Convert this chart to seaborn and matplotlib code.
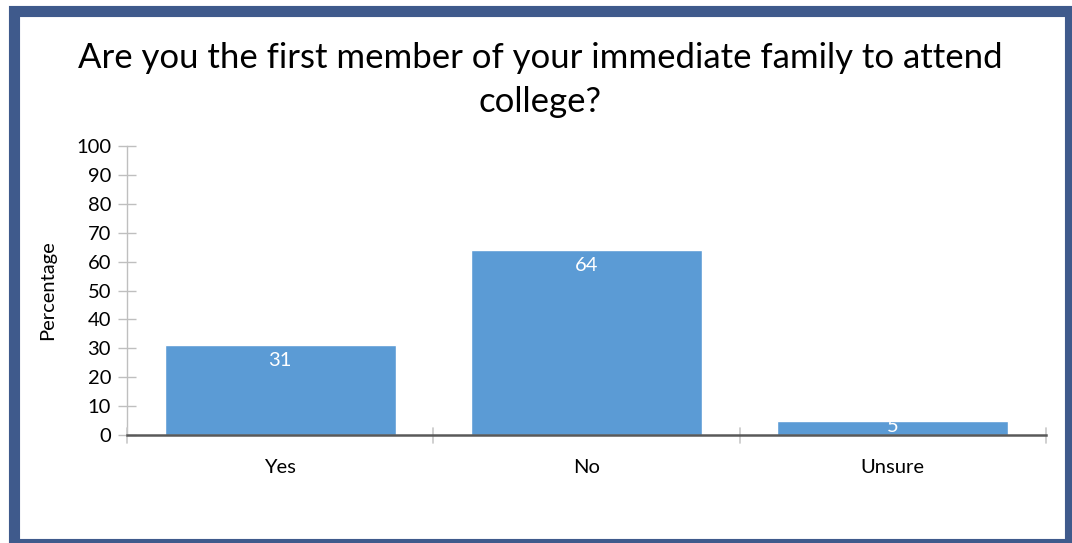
import matplotlib
matplotlib.use("Agg")
import matplotlib.pyplot as plt
import seaborn as sns
import pandas as pd
from matplotlib.patches import Rectangle

categories = ["Yes", "No", "Unsure"]
percentages = [31, 64, 5]
y_ticks = list(range(0, 101, 10))
title = "Are you the first member of your immediate family to attend\ncollege?"

sns.set_theme(style="white")
plt.rcParams["font.family"] = ["Lato", "DejaVu Sans"]

W, H, DPI = 1072, 543, 100
fig = plt.figure(figsize=(W / DPI, H / DPI), dpi=DPI)
fig.patch.set_facecolor("white")

# axes placed in pixel terms
x0, x1 = 127, 1046
y0, y1 = 435, 146
ax = fig.add_axes([x0 / W, 1 - y0 / H, (x1 - x0) / W, (y0 - y1) / H])

df = pd.DataFrame({"category": categories, "pct": percentages})
sns.barplot(data=df, x="category", y="pct", color="#5B9BD5", saturation=1,
            width=0.755, ax=ax)

FS = 14.5
ax.set_ylim(0, 100)
ax.set_xlim(-0.5, len(categories) - 0.5)
ax.set_yticks(y_ticks)
ax.set_yticklabels([str(t) for t in y_ticks], fontsize=FS, color="#000000")
ax.set_xticks([i for i in range(len(categories))])
ax.set_xticklabels(categories, fontsize=FS, color="#000000")
ax.tick_params(axis="x", bottom=True, length=0, pad=17)
ax.tick_params(axis="y", left=True, direction="inout", length=13, width=1,
               color="#BFBFBF", pad=5)

# category boundary ticks on the x axis
for b in [i - 0.5 for i in range(len(categories) + 1)]:
    ax.plot([b, b], [-2.8, 2.4], color="#C8C8C8", lw=1.2, clip_on=False, zorder=4)

for s in ["top", "right"]:
    ax.spines[s].set_visible(False)
ax.spines["left"].set_color("#BFBFBF")
ax.spines["left"].set_linewidth(1)
ax.spines["bottom"].set_color("#595959")
ax.spines["bottom"].set_linewidth(1.8)
ax.spines["bottom"].set_zorder(5)

ax.set_xlabel("")
ax.set_ylabel("Percentage", fontsize=FS, color="#000000", labelpad=14)

for i, v in enumerate(percentages):
    ax.text(i, max(v - 5.3, 3.0), str(v), ha="center", va="center",
            color="white", fontsize=FS)

fig.text(540 / W, 1 - 80 / H, title, ha="center", va="center", fontsize=25,
         color="#000000", linespacing=1.45)

# dark blue frame
fig.patches.append(Rectangle((13.5 / W, 1 - 543.5 / H), (1069.5 - 13.5) / W, (543.5 - 10.5) / H,
                             transform=fig.transFigure, fill=False,
                             edgecolor="#3F5A8C", linewidth=8, zorder=10))

fig.savefig("out.png", dpi=DPI)
